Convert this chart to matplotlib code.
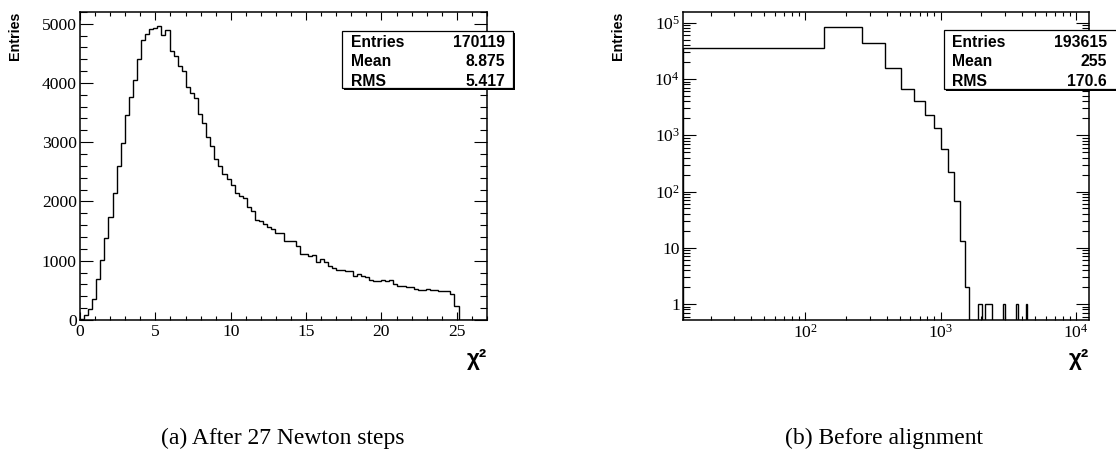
import numpy as np
import matplotlib
matplotlib.use("Agg")
import matplotlib.pyplot as plt
from matplotlib.patches import Rectangle
from matplotlib.ticker import MultipleLocator, LogLocator, FuncFormatter, NullFormatter

# ---------------- data ----------------
# (a) After 27 Newton steps: 100 bins of width 0.27 on [0, 27]
a_bin_width = 0.27
a_counts = [
    20, 90, 193, 360, 698, 1005, 1380, 1735, 2135, 2594,
    2980, 3458, 3768, 4050, 4400, 4722, 4828, 4905, 4925, 4954,
    4815, 4900, 4540, 4462, 4288, 4206, 3930, 3830, 3740, 3480,
    3320, 3080, 2935, 2720, 2595, 2455, 2380, 2285, 2138, 2100,
    2055, 1905, 1840, 1690, 1670, 1620, 1570, 1530, 1466, 1460,
    1340, 1337, 1330, 1242, 1120, 1115, 1085, 1097, 973, 1029,
    973, 917, 878, 852, 848, 822, 820, 750, 783, 750,
    727, 671, 666, 664, 677, 654, 671, 610, 570, 568,
    553, 552, 520, 503, 502, 526, 505, 508, 492, 495,
    481, 447, 230, 0, 0, 0, 0, 0, 0, 0,
]
a_stats = [("Entries", "170119"), ("Mean", "8.875"), ("RMS", "5.417")]

# (b) Before alignment: 100 bins of width 125 starting at 12.5
b_first_edge = 12.5
b_bin_width = 125.0
b_counts = [
    35800, 84900, 42900, 15800, 6760, 4020, 2330, 1340, 577, 221,
    67, 13, 2, 0, 0, 1, 0, 1, 1, 0,
    0, 0, 0, 1, 0, 0, 0, 0, 0, 1,
    0, 0, 0, 0, 1,
] + [0] * 65
b_stats = [("Entries", "193615"), ("Mean", "255"), ("RMS", "170.6")]

captions = ["(a) After 27 Newton steps", "(b) Before alignment"]

# ---------------- style ----------------
W, H = 1116, 451
plt.rcParams["mathtext.fontset"] = "custom"
plt.rcParams["mathtext.rm"] = "Liberation Serif"
plt.rcParams["mathtext.it"] = "Liberation Serif:italic"
plt.rcParams["mathtext.bf"] = "Liberation Serif:bold"
serif = "Liberation Serif"
sans = "Liberation Sans"

fig = plt.figure(figsize=(W / 100, H / 100), dpi=100)


def px_axes(x0, y0, x1, y1):
    return fig.add_axes([x0 / W, 1 - y1 / H, (x1 - x0) / W, (y1 - y0) / H])


def style_axes(ax, ylen_major=9.4, ylen_minor=4.7, xlen_major=5.8, xlen_minor=2.9):
    for s in ax.spines.values():
        s.set_linewidth(1.1)
    ax.tick_params(axis="both", which="both", direction="in", top=True, right=True,
                   width=0.8, labelsize=12.6, colors="black")
    ax.tick_params(axis="x", which="major", length=xlen_major, pad=3.0)
    ax.tick_params(axis="x", which="minor", length=xlen_minor)
    ax.tick_params(axis="y", which="major", length=ylen_major, pad=2.2)
    ax.tick_params(axis="y", which="minor", length=ylen_minor)
    for lab in ax.get_xticklabels() + ax.get_yticklabels():
        lab.set_fontfamily(serif)


def stats_box(x0, y0, x1, y1, rows, xl, xr, ys):
    sh = 2
    fig.add_artist(Rectangle(((x0 + sh) / W, 1 - (y1 + sh) / H), (x1 - x0) / W, (y1 - y0) / H,
                             transform=fig.transFigure, facecolor="black", edgecolor="black",
                             linewidth=0, zorder=10))
    fig.add_artist(Rectangle((x0 / W, 1 - y1 / H), (x1 - x0) / W, (y1 - y0) / H,
                             transform=fig.transFigure, facecolor="white", edgecolor="black",
                             linewidth=0.9, zorder=11))
    for (name, val), y in zip(rows, ys):
        fig.text(xl / W, 1 - y / H, name, ha="left", va="center", fontfamily=sans,
                 fontweight="bold", fontsize=11.3, zorder=12)
        fig.text(xr / W, 1 - y / H, val, ha="right", va="center", fontfamily=sans,
                 fontweight="bold", fontsize=11.3, zorder=12)


# ---------------- panel (a) ----------------
axa = px_axes(80, 11.7, 487, 320)
a_vals = np.array(a_counts, dtype=float)
a_edges = np.arange(len(a_vals) + 1) * a_bin_width
axa.stairs(a_vals, a_edges, color="black", linewidth=1.0)
axa.set_xlim(a_edges[0], a_edges[-1])
axa.set_ylim(0, a_vals.max() * 1.05)
axa.xaxis.set_major_locator(MultipleLocator(5))
axa.xaxis.set_minor_locator(MultipleLocator(1))
axa.yaxis.set_major_locator(MultipleLocator(1000))
axa.yaxis.set_minor_locator(MultipleLocator(200))
style_axes(axa)

# ---------------- panel (b) ----------------
axb = px_axes(683, 11.7, 1089, 320)
b_vals = np.array(b_counts, dtype=float)
b_edges = b_first_edge + np.arange(len(b_vals) + 1) * b_bin_width
b_plot = np.where(b_vals > 0, b_vals, 1e-2)
axb.stairs(b_plot, b_edges, color="black", linewidth=1.0, baseline=1e-2)
axb.set_xscale("log")
axb.set_yscale("log")
axb.set_xlim(b_edges[0], b_edges[-1])
axb.set_ylim(0.52, 1.57e5)
axb.xaxis.set_major_locator(LogLocator(base=10, numticks=10))
axb.xaxis.set_minor_locator(LogLocator(base=10, subs=np.arange(2, 10), numticks=20))
axb.yaxis.set_major_locator(LogLocator(base=10, numticks=10))
axb.yaxis.set_minor_locator(LogLocator(base=10, subs=np.arange(2, 10), numticks=20))


def logfmt(v, pos):
    e = int(round(np.log10(v)))
    if e == 0:
        return "1"
    if e == 1:
        return "10"
    return r"$10^{%d}$" % e


axb.xaxis.set_major_formatter(FuncFormatter(logfmt))
axb.yaxis.set_major_formatter(FuncFormatter(logfmt))
axb.xaxis.set_minor_formatter(NullFormatter())
axb.yaxis.set_minor_formatter(NullFormatter())
style_axes(axb)

# ---------------- labels ----------------
for ax_x0, ax_x1 in [(80, 487), (683, 1089)]:
    fig.text((ax_x0 - 65) / W, 1 - 11.7 / H, "Entries", rotation=90, ha="center", va="top",
             fontfamily=sans, fontweight="bold", fontsize=10.3)
    fig.text(ax_x1 / W, 1 - 360 / H, "χ²", ha="right", va="center",
             fontfamily=sans, fontweight="bold", fontsize=16)

stats_box(342, 30.7, 513, 88.3, a_stats, 351, 505.5, [42.5, 62, 81.5])
stats_box(944, 30.5, 1118, 89, b_stats, 952, 1107, [42.5, 62, 81.5])

fig.text(283 / W, 1 - 438 / H, captions[0], ha="center", va="center", fontfamily=serif, fontsize=17)
fig.text(884 / W, 1 - 438 / H, captions[1], ha="center", va="center", fontfamily=serif, fontsize=17)

fig.savefig("out.png", dpi=100, facecolor="white")
